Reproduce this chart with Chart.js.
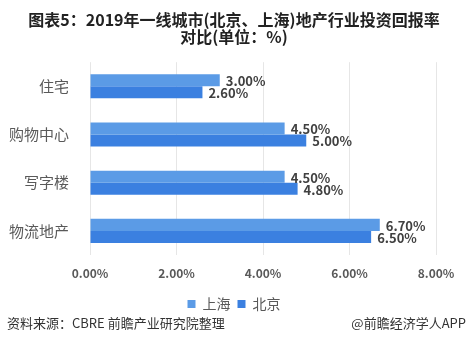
<!DOCTYPE html>
<html>
<head>
<meta charset="utf-8">
<script src="https://cdn.jsdelivr.net/npm/chart.js@4"></script>
<style>
  html, body { margin: 0; padding: 0; background: #fff; }
  #wrap { position: relative; width: 468px; height: 351px; }
</style>
</head>
<body>
<div id="wrap"><canvas id="chart" width="468" height="351"></canvas></div>
<script>
"use strict";

/* ===== DADOS ===== */
const categorias = ["住宅", "购物中心", "写字楼", "物流地产"];
const shanghai = [3.0, 4.5, 4.5, 6.7];
const beijing = [2.6, 5.0, 4.8, 6.5];
const ticksX = [0, 2, 4, 6, 8];
const titulo = ["图表5：2019年一线城市(北京、上海)地产行业投资回报率", "对比(单位：%)"];
const fonte = "资料来源：CBRE 前瞻产业研究院整理";
const marca = "@前瞻经济学人APP";

const SANS = '"Noto Sans CJK SC", "Noto Sans", sans-serif';

// rótulos de valor no fim das barras
const rotulos = {
    id: "rotulos",
    afterDatasetsDraw(chart) {
        const ctx = chart.ctx;
        ctx.save();
        ctx.font = "bold 13px " + SANS;
        ctx.fillStyle = "#404040";
        ctx.textBaseline = "middle";
        chart.data.datasets.forEach((ds, i) => {
            chart.getDatasetMeta(i).data.forEach((bar, j) => {
                ctx.fillText(ds.data[j].toFixed(2) + "%", bar.x + 6, bar.y + 1);
            });
        });
        ctx.restore();
    }
};

// rodapé
const rodape = {
    id: "rodape",
    afterDraw(chart) {
        const ctx = chart.ctx;
        ctx.save();
        ctx.font = "13px " + SANS;
        ctx.fillStyle = "#333";
        ctx.textBaseline = "middle";
        ctx.textAlign = "left";
        ctx.fillText(fonte, 7, 323);
        ctx.textAlign = "right";
        ctx.fillText(marca, 466, 323);
        ctx.restore();
    }
};

new Chart(document.getElementById("chart"), {
    type: "bar",
    data: {
        labels: categorias,
        datasets: [
            { label: "上海", data: shanghai, backgroundColor: "#5b9be6" },
            { label: "北京", data: beijing, backgroundColor: "#3b80e0" }
        ]
    },
    options: {
        indexAxis: "y",
        responsive: false,
        animation: false,
        layout: { padding: { left: 0, right: 0, top: 0, bottom: 30 } },
        categoryPercentage: 0.5,
        barPercentage: 1.0,
        scales: {
            x: {
                min: 0,
                max: 8,
                afterBuildTicks: s => { s.ticks = ticksX.map(v => ({ value: v })); },
                ticks: {
                    callback: v => v.toFixed(2) + "%",
                    color: "#595959",
                    font: { family: SANS, size: 12, weight: "bold" },
                    padding: 11
                },
                grid: { color: "#e6e6e6", drawTicks: false },
                border: { display: false },
                afterFit: s => { s.height = 35; }
            },
            y: {
                ticks: {
                    color: "#595959",
                    font: { family: SANS, size: 15 },
                    padding: 13
                },
                grid: { display: false },
                border: { display: false },
                afterFit: s => { s.width = 90; }
            },
            // eixo vazio só para reservar a margem direita
            margem: {
                axis: "y",
                position: "right",
                ticks: { display: false },
                grid: { display: false },
                border: { display: false },
                afterFit: s => { s.width = 32; }
            }
        },
        plugins: {
            title: {
                display: true,
                text: titulo,
                color: "#222",
                font: { family: SANS, size: 16, weight: "bold", lineHeight: 1.1 },
                padding: { top: 11, bottom: 16 }
            },
            legend: {
                position: "bottom",
                labels: {
                    boxWidth: 8,
                    boxHeight: 8,
                    padding: 7,
                    color: "#595959",
                    font: { family: SANS, size: 14 }
                }
            },
            tooltip: { enabled: false }
        }
    },
    plugins: [rotulos, rodape]
});
</script>
</body>
</html>
